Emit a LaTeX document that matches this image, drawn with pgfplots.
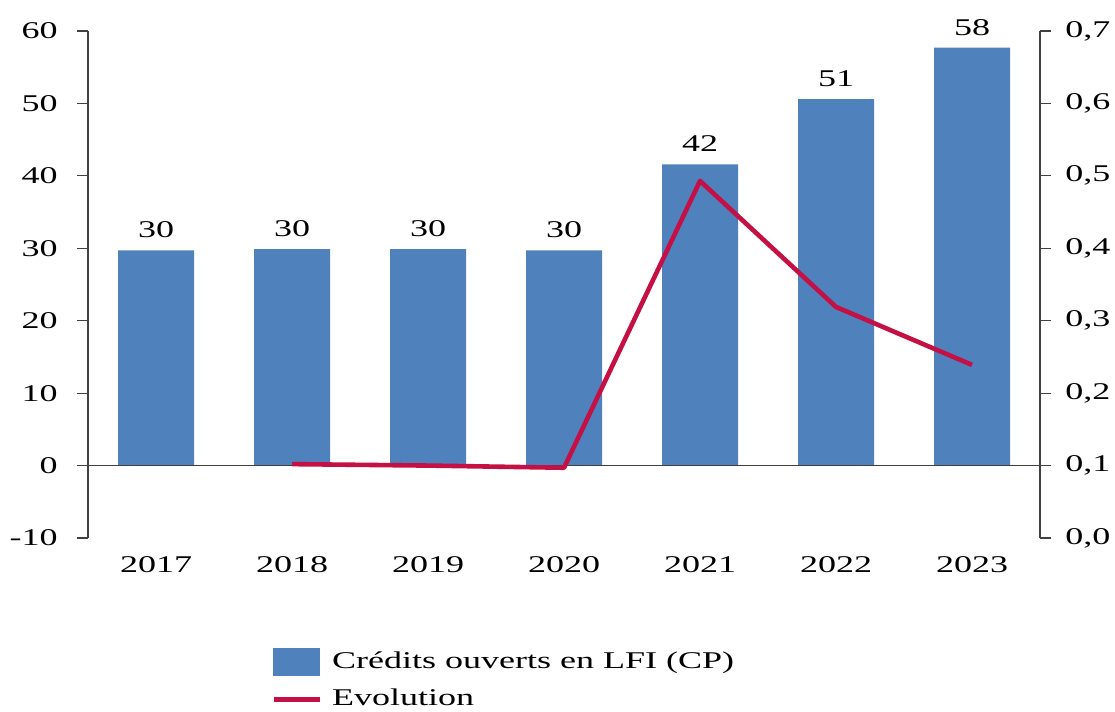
\documentclass[border=0pt]{standalone}
\usepackage{pgfplots}
\pgfplotsset{compat=1.18}
\usepackage{fontspec}
\setmainfont[FakeStretch=1.5]{Liberation Serif}
\usetikzlibrary{calc}
\definecolor{barblue}{RGB}{79,129,189}
\definecolor{linered}{RGB}{196,16,68}
\definecolor{axgray}{RGB}{64,64,64}
\begin{document}
\fontsize{12pt}{14pt}\selectfont
\begin{tikzpicture}
\begin{axis}[
  name=ax,
  scale only axis,
  width=476pt, height=253.5pt,
  xmin=-0.5, xmax=6.5,
  ymin=-10, ymax=60,
  ytick={-10,0,...,60},
  xtick={0,...,6},
  xticklabels={2017,2018,2019,2020,2021,2022,2023},
  axis y line*=left,
  axis x line*=bottom,
  x axis line style={draw=none},
  tick align=outside,
  major tick length=5.5pt,
  tick style={axgray, line width=0.6pt},
  y axis line style={axgray, line width=0.6pt},
  xtick style={draw=none},
  yticklabel style={/pgf/number format/assume math mode=true, font=\fontsize{12pt}{14pt}\selectfont, xshift=-5.5pt},
  xticklabel style={/pgf/number format/assume math mode=true, font=\fontsize{12pt}{14pt}\selectfont, yshift=0.5pt},
  /pgf/number format/assume math mode=true,
  clip=false,
]
\addplot[ybar, bar width=38pt, fill=barblue, draw=none,
  nodes near coords,
  nodes near coords style={font=\fontsize{12pt}{14pt}\selectfont, /pgf/number format/fixed, /pgf/number format/precision=0, /pgf/number format/assume math mode=true, yshift=2pt},
] coordinates {
  (0,29.7) (1,29.9) (2,29.9) (3,29.7) (4,41.6) (5,50.6) (6,57.7)
};
\addplot[axgray, line width=0.6pt, forget plot] coordinates {(-0.5,0) (6.5,0)};
\end{axis}
\begin{axis}[
  scale only axis,
  width=476pt, height=253.5pt,
  xmin=-0.5, xmax=6.5,
  ymin=0, ymax=0.7,
  ytick={0,0.1,...,0.7},
  axis y line*=right,
  axis x line=none,
  tick align=outside,
  major tick length=5.5pt,
  tick style={axgray, line width=0.6pt},
  y axis line style={axgray, line width=0.6pt},
  yticklabel style={/pgf/number format/fixed, /pgf/number format/fixed zerofill, /pgf/number format/precision=1, /pgf/number format/use comma, /pgf/number format/assume math mode=true, font=\fontsize{12pt}{14pt}\selectfont, xshift=3pt},
  legend style={at={(0.186,-0.208)}, anchor=north west, draw=none, fill=none,
    font=\fontsize{12pt}{14pt}\selectfont, row sep=4.5pt,
    /tikz/every odd column/.append style={column sep=3pt}},
  legend cell align=left,
]
\addlegendimage{area legend, legend image code/.code={\fill[barblue] (0pt,-6.75pt) rectangle (23pt,6.75pt);}}
\addlegendentry{Crédits ouverts en LFI (CP)}
\addplot[linered, line width=2.3pt, line join=round,
  legend image code/.code={\draw[linered, line width=2.3pt] (0pt,0pt) -- (23pt,0pt);}]
  coordinates {(1,0.102) (2,0.100) (3,0.097) (4,0.493) (5,0.319) (6,0.239)};
\addlegendentry{Evolution}
\end{axis}
\pgfresetboundingbox
\path[use as bounding box] ($(ax.south west)+(-44pt,-86.5pt)$) rectangle ($(ax.north east)+(37.5pt,15.5pt)$);
\end{tikzpicture}
\end{document}
